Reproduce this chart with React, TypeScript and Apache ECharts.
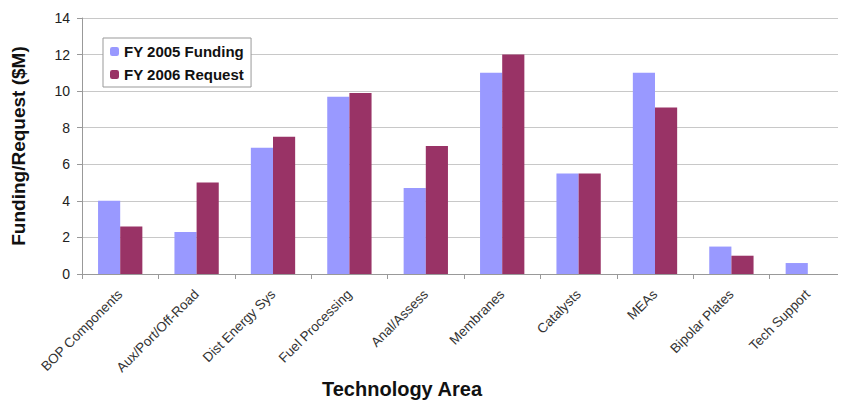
import React, { useEffect, useRef } from "react";
import * as echarts from "echarts";

const categories = [
  "BOP Components",
  "Aux/Port/Off-Road",
  "Dist Energy Sys",
  "Fuel Processing",
  "Anal/Assess",
  "Membranes",
  "Catalysts",
  "MEAs",
  "Bipolar Plates",
  "Tech Support",
];
const fy2005 = [4.0, 2.3, 6.9, 9.7, 4.7, 11.0, 5.5, 11.0, 1.5, 0.6];
const fy2006 = [2.6, 5.0, 7.5, 9.9, 7.0, 12.0, 5.5, 9.1, 1.0, 0];
const seriesNames = ["FY 2005 Funding", "FY 2006 Request"];
const xTitle = "Technology Area";
const yTitle = "Funding/Request ($M)";

const FONT = "Liberation Sans, Arial, sans-serif";

export default function App() {
  const ref = useRef<HTMLDivElement>(null);
  useEffect(() => {
    if (!ref.current) return;
    const chart = echarts.init(ref.current, null, { renderer: "svg" });
    chart.setOption({
      animation: false,
      backgroundColor: "#ffffff",
      textStyle: { fontFamily: FONT },
      grid: { left: 82, right: 0, top: 18, bottom: 128, containLabel: false },
      legend: {
        orient: "vertical",
        left: 103,
        top: 38,
        itemWidth: 9,
        itemHeight: 9,
        itemGap: 8,
        padding: [6, 7, 5, 7],
        borderColor: "#999999",
        borderWidth: 1,
        backgroundColor: "#ffffff",
        textStyle: { fontFamily: FONT, fontSize: 15, fontWeight: "bold", color: "#111" },
        data: seriesNames,
      },
      graphic: [
        {
          type: "text",
          left: 322,
          top: 379,
          style: {
            text: xTitle,
            font: "bold 20px Liberation Sans, Arial, sans-serif",
            fill: "#111",
          },
        },
      ],
      xAxis: {
        type: "category",
        data: categories,
        axisLine: { lineStyle: { color: "#999999" } },
        axisTick: { show: true, interval: 0, length: 5, lineStyle: { color: "#999999" } },
        axisLabel: {
          interval: 0,
          rotate: 45,
          fontSize: 13.5,
          color: "#333",
          fontFamily: FONT,
          margin: 18,
        },
      },
      yAxis: {
        type: "value",
        min: 0,
        max: 14,
        interval: 2,
        name: yTitle,
        nameLocation: "middle",
        nameGap: 54,
        nameTextStyle: { fontFamily: FONT, fontSize: 19, fontWeight: "bold", color: "#111" },
        axisLine: { show: true, lineStyle: { color: "#999999" } },
        axisTick: { show: true, length: 5, lineStyle: { color: "#999999" } },
        axisLabel: { fontSize: 14, color: "#222", fontFamily: FONT, margin: 12 },
        splitLine: { lineStyle: { color: "#c8c8c8" } },
      },
      series: [
        {
          name: seriesNames[0],
          type: "bar",
          data: fy2005,
          barGap: "0%",
          barCategoryGap: "42%",
          itemStyle: { color: "#9999FF" },
        },
        {
          name: seriesNames[1],
          type: "bar",
          data: fy2006,
          itemStyle: { color: "#993366" },
        },
      ],
    });
    return () => chart.dispose();
  }, []);
  return <div ref={ref} style={{ width: 846, height: 402, marginLeft: -8, marginTop: -8 }} />;
}
